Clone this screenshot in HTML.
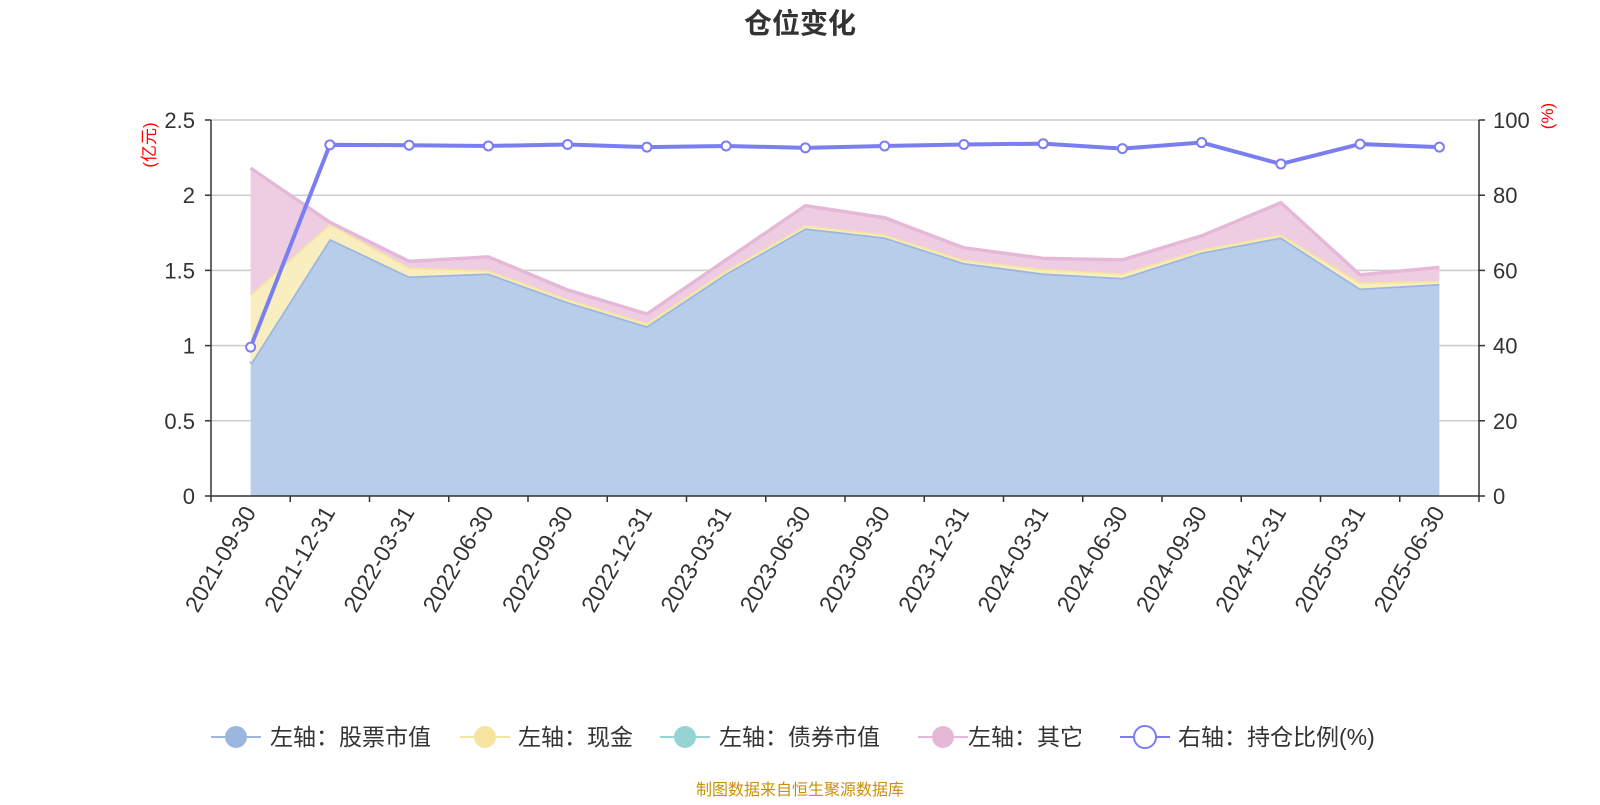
<!DOCTYPE html>
<html><head><meta charset="utf-8"><style>
body{margin:0;background:#fff;font-family:"Liberation Sans","Noto Sans CJK SC",sans-serif}
svg text{font-family:"Liberation Sans","Noto Sans CJK SC",sans-serif}
</style></head><body>
<svg id="chart" width="1600" height="800" xmlns="http://www.w3.org/2000/svg">
<text x="800" y="33" text-anchor="middle" font-size="28" font-weight="bold" fill="#333">仓位变化</text>
<g id="grid"></g><g id="areas"></g><g id="axes"></g><g id="line"></g>
<text transform="translate(155,145) rotate(-90)" text-anchor="middle" font-size="17" fill="#f00">(亿元)</text>
<text transform="translate(1553,116) rotate(-90)" text-anchor="middle" font-size="17" fill="#f00">(%)</text>
<g id="legend"></g>
<text x="800" y="795" text-anchor="middle" font-size="16" fill="#c8900a">制图数据来自恒生聚源数据库</text>
</svg>
<script>
const categories=["2021-09-30","2021-12-31","2022-03-31","2022-06-30","2022-09-30","2022-12-31","2023-03-31","2023-06-30","2023-09-30","2023-12-31","2024-03-31","2024-06-30","2024-09-30","2024-12-31","2025-03-31","2025-06-30"];
const stockValues=[0.88,1.71,1.46,1.48,1.29,1.13,1.48,1.78,1.72,1.55,1.48,1.45,1.62,1.72,1.38,1.41];
const cashValues=[0.46,0.10,0.06,0.02,0.02,0.02,0.02,0.02,0.02,0.02,0.03,0.03,0.02,0.02,0.04,0.02];
const bondValues=[0,0,0,0,0,0,0,0,0,0,0,0,0,0,0,0];
const otherValues=[0.84,0.01,0.04,0.09,0.06,0.06,0.07,0.13,0.11,0.08,0.07,0.09,0.09,0.21,0.05,0.09];
const ratioValues=[39.6,93.4,93.3,93.1,93.5,92.8,93.1,92.6,93.1,93.5,93.7,92.4,94.0,88.3,93.6,92.8];
const leftTicks=["0","0.5","1","1.5","2","2.5"];
const rightTicks=["0","20","40","60","80","100"];
const NS="http://www.w3.org/2000/svg";
const X0=211,X1=1479,Y0=496,Y1=120;
const band=(X1-X0)/categories.length;
const xAt=i=>X0+band*(i+0.5);
const yL=v=>Y0-(v/2.5)*(Y0-Y1);
const yR=v=>Y0-(v/100)*(Y0-Y1);
function mk(tag,attrs,parent){const e=document.createElementNS(NS,tag);for(const k in attrs)e.setAttribute(k,attrs[k]);parent.appendChild(e);return e;}
const grid=document.getElementById('grid'),axes=document.getElementById('axes'),areas=document.getElementById('areas'),lineG=document.getElementById('line'),legend=document.getElementById('legend');
leftTicks.forEach((t,i)=>{const v=parseFloat(t);const y=yL(v);
 if(i>0){const g=mk('line',{x1:X0,x2:X1,y1:y,y2:y,stroke:'#ccc','stroke-width':1.5},grid);}
 mk('line',{x1:X0-6,x2:X0,y1:y,y2:y,stroke:'#333','stroke-width':1.5},axes);
 const tx=mk('text',{x:X0-16,y:y+8,'text-anchor':'end','font-size':22,fill:'#333'},axes);tx.textContent=t;
 
 });
rightTicks.forEach(t=>{const v=parseFloat(t);const y=yR(v);
 mk('line',{x1:X1,x2:X1+6,y1:y,y2:y,stroke:'#333','stroke-width':1.5},axes);
 const tx=mk('text',{x:X1+14,y:y+8,'font-size':22,fill:'#333'},axes);tx.textContent=t;
 
 });
mk('line',{x1:X0,x2:X0,y1:Y1,y2:Y0,stroke:'#333','stroke-width':1.5},axes);
mk('line',{x1:X1,x2:X1,y1:Y1,y2:Y0,stroke:'#333','stroke-width':1.5},axes);
mk('line',{x1:X0,x2:X1,y1:Y0,y2:Y0,stroke:'#333','stroke-width':1.5},axes);
for(let i=0;i<=categories.length;i++){const x=X0+band*i;mk('line',{x1:x,x2:x,y1:Y0,y2:Y0+6,stroke:'#333','stroke-width':1.5},axes);}
categories.forEach((c,i)=>{const x=xAt(i);const tx=mk('text',{transform:`translate(${x+6},${Y0+16}) rotate(-60)`,'text-anchor':'end','font-size':23,fill:'#333'},axes);tx.textContent=c;
 
 });
const series=[{name:'stock',vals:stockValues,fill:'#b8cde9',stroke:'#9bb7e0'},{name:'cash',vals:cashValues,fill:'#f9eec0',stroke:'#f6e5a0'},{name:'bond',vals:bondValues,fill:'#a3d8d8',stroke:'#96d3d3'},{name:'other',vals:otherValues,fill:'#eecde3',stroke:'#e6b8d8'}];
let base=categories.map(()=>0);
series.forEach(s=>{const top=base.map((b,i)=>b+s.vals[i]);
 const up=top.map((v,i)=>`${xAt(i)},${yL(v)}`);const down=base.map((v,i)=>`${xAt(i)},${yL(v)}`).reverse();
 const a=mk('polygon',{points:up.concat(down).join(' '),fill:s.fill},areas);
 
 
 if(s.name!=='bond'){const l=mk('polyline',{points:up.join(' '),fill:'none',stroke:s.stroke,'stroke-width':3.5},areas);
 
 }
 base=top;});
const rl=mk('polyline',{points:ratioValues.map((v,i)=>`${xAt(i)},${yR(v)}`).join(' '),fill:'none',stroke:'#7b7ef0','stroke-width':4},lineG);


ratioValues.forEach((v,i)=>{const c=mk('circle',{cx:xAt(i),cy:yR(v),r:4.5,fill:'#fff',stroke:'#7b7ef0','stroke-width':2},lineG);
 
 });
const legItems=[{t:'左轴：股票市值',c:'#9bb7e0',x:211,tx:270},{t:'左轴：现金',c:'#f6e5a0',x:460,tx:518},{t:'左轴：债券市值',c:'#96d3d3',x:660,tx:719},{t:'左轴：其它',c:'#e6b8d8',x:918,tx:968},{t:'右轴：持仓比例(%)',c:'#7b7ef0',x:1120,tx:1178,hollow:true}];
legItems.forEach(it=>{const g=mk('g',{},legend);
 
 
 const y=737;
 mk('line',{x1:it.x,x2:it.x+50,y1:y,y2:y,stroke:it.c,'stroke-width':2},g);
 mk('circle',{cx:it.x+25,cy:y,r:11,fill:it.hollow?'#fff':it.c,stroke:it.c,'stroke-width':it.hollow?2:0},g);
 const tx=mk('text',{x:it.tx,y:y+8,'font-size':23,fill:'#333'},g);tx.textContent=it.t;});
</script>
</body></html>
